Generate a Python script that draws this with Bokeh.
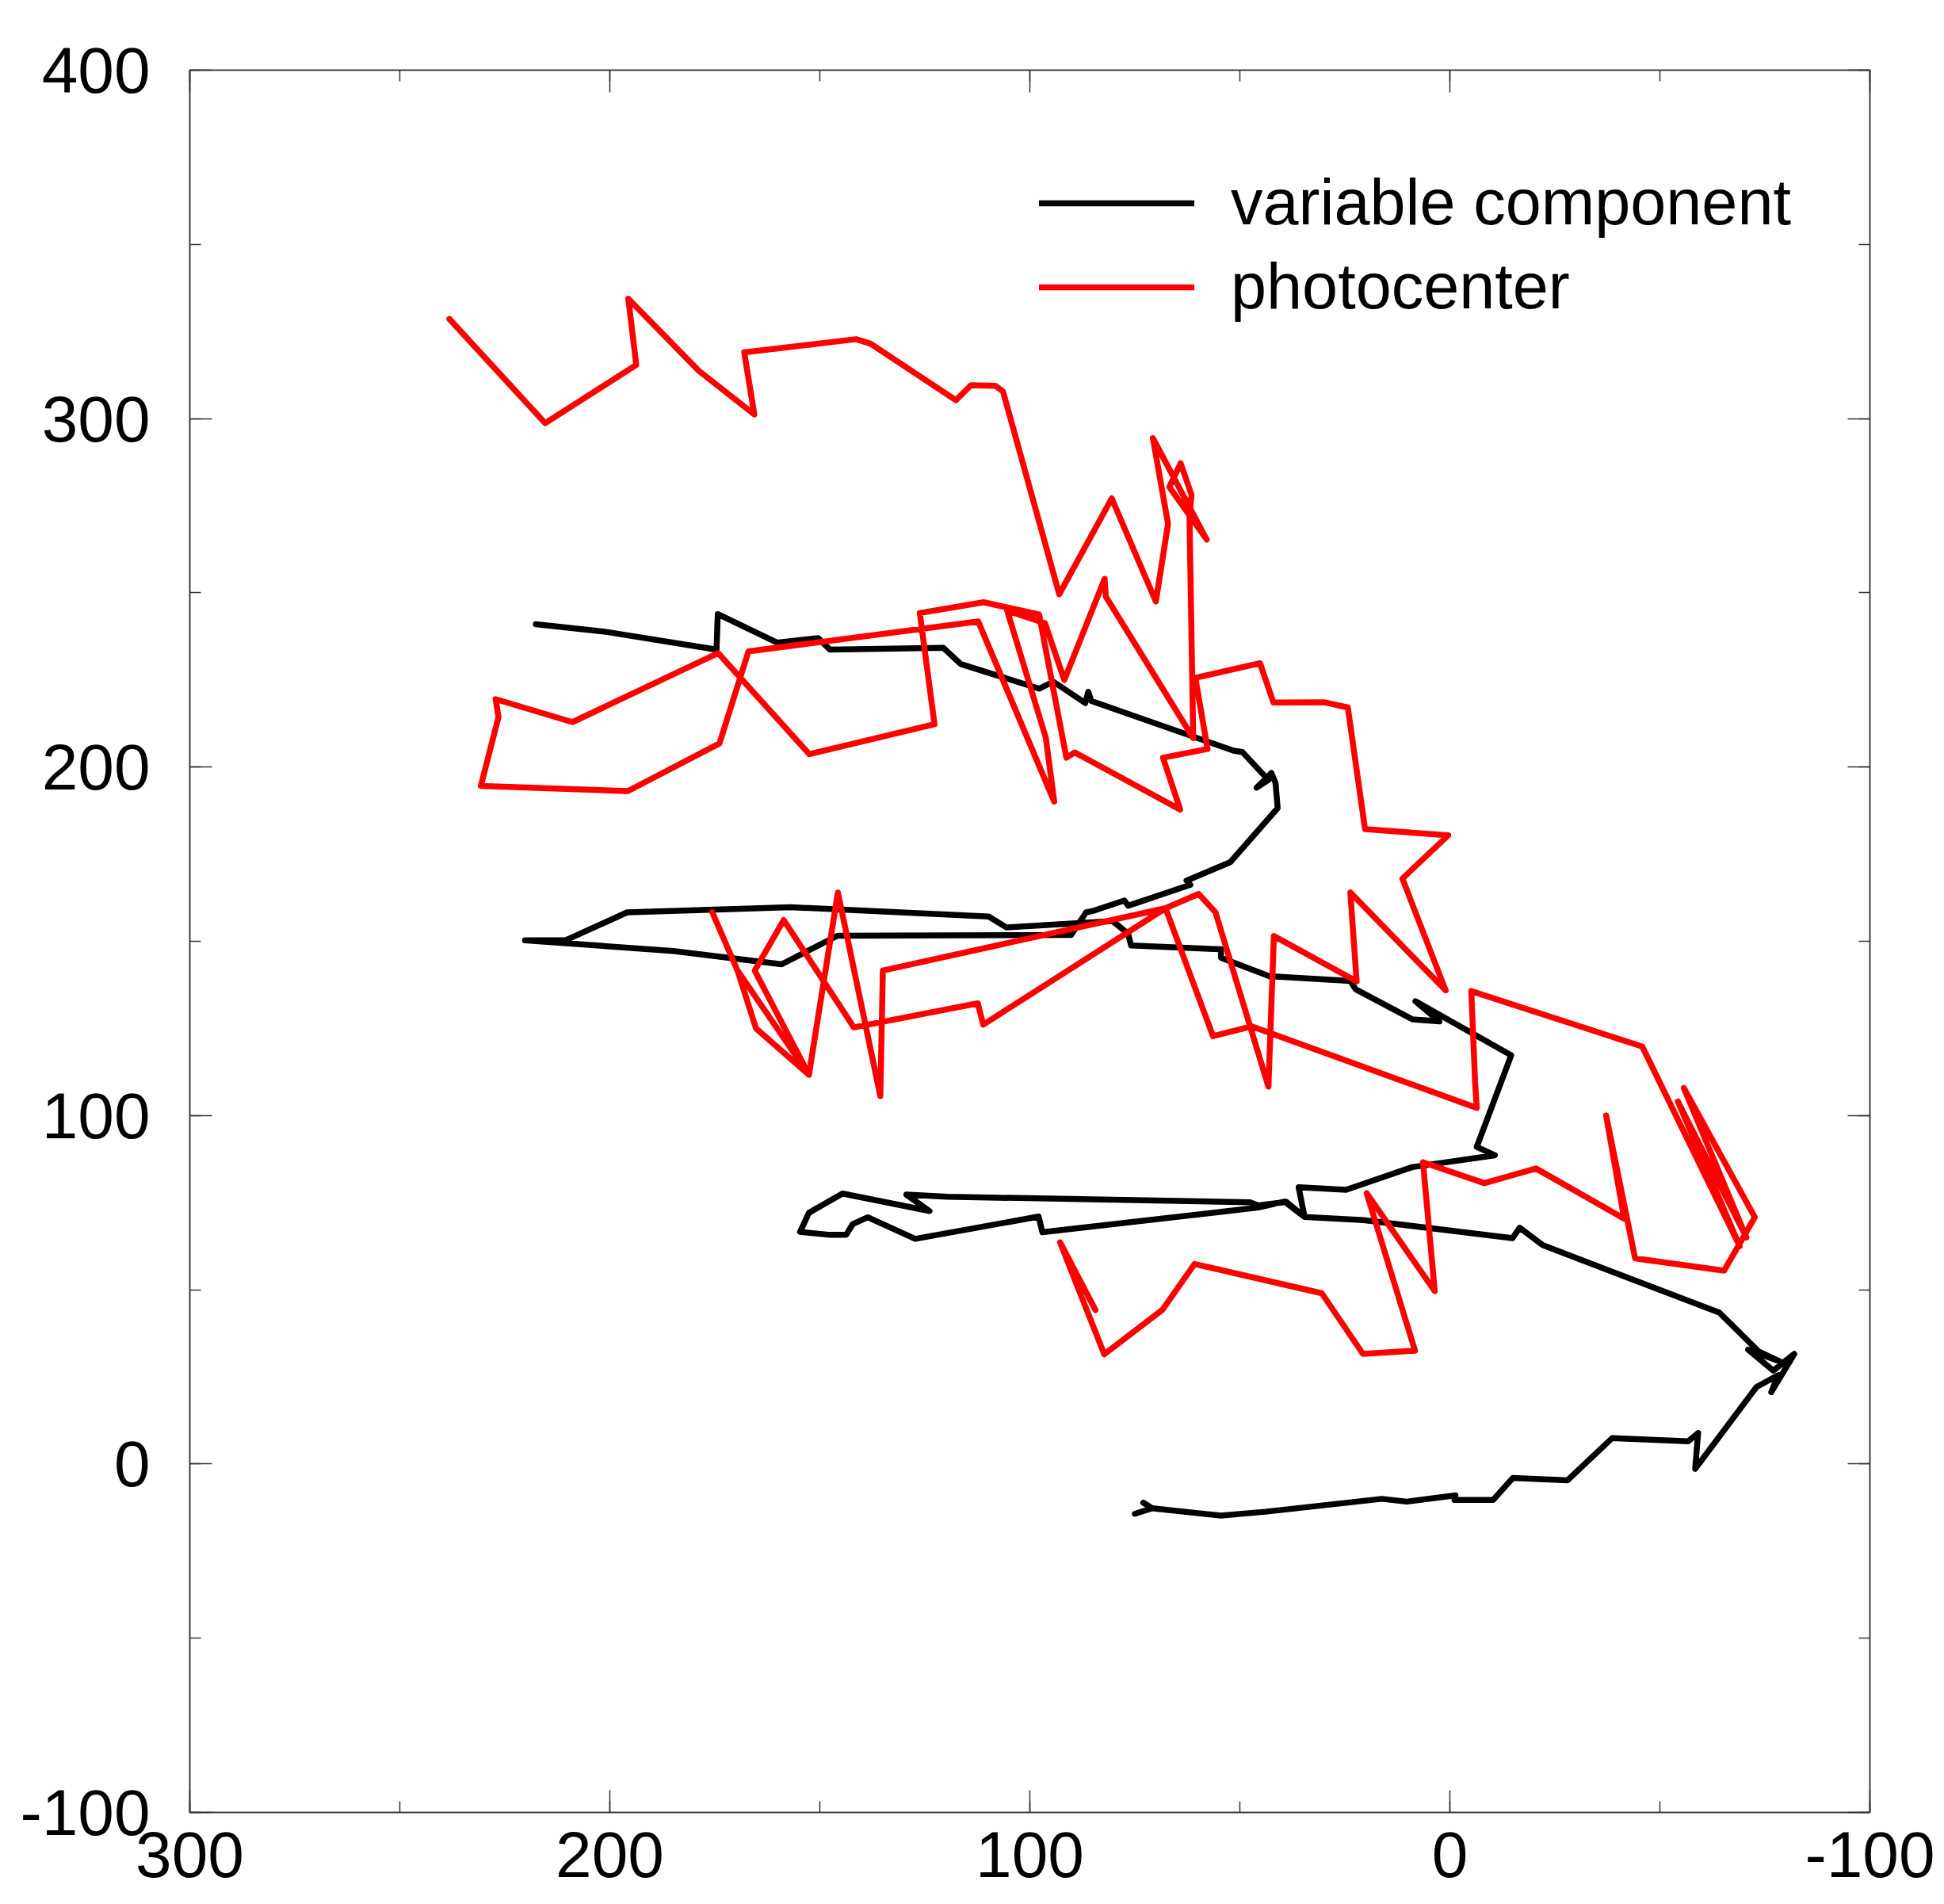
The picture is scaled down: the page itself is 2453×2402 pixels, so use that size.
from bokeh.plotting import figure
from bokeh.models import (Range1d, LinearAxis, SingleIntervalTicker, Legend, LegendItem,
                          PrintfTickFormatter, CustomLabelingPolicy)
from bokeh.embed import file_html
from bokeh.resources import INLINE

# ---- data ----
var_x = [217.6, 200.9, 174.6, 174.3, 160.1, 150.4, 147.6, 120.6, 116.5, 97.8, 94.4, 86.8, 86.1, 85.4,
         51.5, 49.4, 43.2, 46.0, 42.5, 41.5, 41.0, 52.3, 62.7, 61.8, 76.6, 77.5, 84.7, 86.6, 90.2,
         145.8, 159.1, 184.9, 220.2, 210.5, 195.9, 157.0, 109.8, 105.6, 80.3, 76.6, 75.9, 54.5, 54.5,
         43.0, 23.7, 22.4, 8.9, 2.5, 8.2, -14.6, -6.4, -10.7, 9.0, 24.7, 36.0, 34.6, 38.9, 45.6, 47.6,
         119.7, 129.4, 123.9, 144.6, 152.6, 154.7, 148.0, 143.7, 142.2, 138.6, 127.3, 97.9, 97.0,
         45.6, 39.4, 34.6, 20.5, -14.9, -16.6, -22.1, -64.2, -73.5, -78.8, -71.0, -77.0, -82.0,
         -76.5, -78.2, -73.0, -58.4, -59.1, -56.7, -38.6, -28.0, -15.0, -10.3, -1.1, -1.3, 10.3,
         16.2, 43.9, 54.5, 70.9, 73.0, 70.9, 75.0]
var_y = [241.0, 238.8, 233.7, 243.9, 235.7, 237.0, 233.7, 234.2, 229.6, 222.5, 224.5, 218.4, 221.6, 219.0,
         204.7, 204.3, 196.3, 194.1, 198.3, 195.4, 188.2, 172.7, 167.4, 166.2, 160.2, 161.7, 158.8, 158.3, 151.8,
         151.6, 143.4, 147.2, 150.3, 150.3, 158.3, 159.8, 157.1, 154.0, 155.8, 152.2, 148.8, 147.7, 145.3,
         140.0, 138.6, 136.2, 127.6, 127.0, 132.8, 117.3, 91.0, 88.6, 85.2, 78.7, 79.4, 70.9, 75.2, 74.2, 75.1,
         76.7, 77.3, 72.6, 77.6, 72.1, 66.6, 65.8, 65.8, 68.8, 70.8, 64.6, 71.0, 66.5,
         73.6, 75.3, 70.9, 70.0, 64.8, 67.8, 62.8, 43.4, 32.3, 29.3, 32.8, 26.8, 31.6,
         20.6, 25.5, 22.1, -1.4, 8.9, 6.5, 7.4, -4.7, -4.0, -10.3, -10.3, -9.0, -10.8,
         -10.0, -13.7, -14.8, -12.7, -11.1, -12.7, -14.3]

photo_x = [238.2, 215.4, 193.7, 195.6, 178.8, 165.6, 168.0, 141.4, 137.9, 117.6, 114.0, 108.2, 106.4,
           93.0, 80.5, 70.0, 67.1, 70.7, 57.9, 66.8, 64.1, 61.5, 62.0, 61.1, 81.9, 82.2, 91.8, 96.4,
           105.4, 96.2, 94.2, 112.3, 167.0, 173.9, 195.7, 230.7, 226.5, 227.2, 208.9, 174.2, 152.5,
           122.7, 126.2, 111.0, 97.8, 91.3, 89.3, 64.2, 68.3, 57.7, 60.6, 45.2, 42.0, 30.0, 24.3, 20.2,
           0.4, 11.3, 1.0, 23.7, 22.2, 41.9, 43.2, 55.8, 59.8, 67.7, 135.0, 135.6, 145.7, 152.6, 165.2,
           169.6, 175.6, 169.6, 152.6, 165.5, 158.6, 141.9, 112.4, 111.1, 99.8, 67.7, 56.4, 47.2, -6.4,
           -6.0, -5.1, -45.8, -69.0, -54.3, -70.6, -55.7, -72.6, -65.3, -44.1, -37.2, -41.5, -20.5,
           -8.2, 6.4, 3.6, 19.8, 8.3, 20.7, 30.5, 60.8, 68.4, 82.3, 92.8, 84.4]
photo_y = [328.6, 298.7, 315.4, 334.4, 313.7, 301.2, 319.0, 322.8, 321.5, 305.3, 309.6, 309.4, 307.8,
           249.6, 277.1, 247.5, 269.8, 294.4, 265.3, 280.4, 287.2, 278.1, 272.0, 208.3, 248.9, 254.0, 225.0, 241.3,
           244.9, 208.4, 190.1, 241.8, 233.2, 206.8, 193.1, 194.6, 214.4, 219.5, 212.9, 232.7, 203.7,
           212.3, 244.2, 247.3, 243.8, 202.7, 204.2, 187.8, 202.7, 205.2, 225.6, 229.8, 218.5, 218.6, 217.1, 182.2,
           180.4, 168.0, 135.9, 164.0, 138.5, 151.5, 108.3, 158.3, 163.6, 159.5, 141.6, 105.6, 164.0, 111.7, 125.0,
           141.6, 158.3, 141.6, 111.7, 141.6, 156.1, 125.3, 132.2, 126.1, 134.8, 159.5, 122.8, 125.6, 102.2,
           109.7, 135.7, 119.8, 62.5, 104.0, 65.0, 107.9, 70.8, 55.5, 59.0, 100.0, 70.4, 84.8,
           80.6, 86.6, 49.6, 77.7, 32.5, 31.6, 49.0, 57.4, 44.3, 31.5, 63.6, 44.2]

series_labels = ["variable component", "photocenter"]
series_colors = ["#000000", "#ff0000"]
x_limits = [300, -100]
y_limits = [-100, 400]
tick_step = 100

FONT = "Liberation Sans"
AX = "#333333"

p = figure(frame_width=2120, frame_height=2198,
           min_border_left=239, min_border_top=88, min_border_right=92, min_border_bottom=114,
           x_range=Range1d(*x_limits), y_range=Range1d(*y_limits),
           output_backend="svg", toolbar_location=None,
           x_axis_location=None, y_axis_location=None)
p.background_fill_color = "white"
p.border_fill_color = "white"
p.outline_line_color = AX
p.outline_line_width = 1.5
p.xgrid.visible = False
p.ygrid.visible = False

r1 = p.line(var_x, var_y, line_color=series_colors[0], line_width=7.5,
            line_join="round", line_cap="round")
r2 = p.line(photo_x, photo_y, line_color=series_colors[1], line_width=7.5,
            line_join="round", line_cap="round")


def make_axis(show_labels, standoff):
    ax = LinearAxis(ticker=SingleIntervalTicker(interval=tick_step, num_minor_ticks=2))
    ax.formatter = PrintfTickFormatter(format="%d")
    ax.axis_line_color = AX
    ax.axis_line_width = 1.5
    ax.major_tick_line_color = AX
    ax.minor_tick_line_color = AX
    ax.major_tick_line_width = 1.5
    ax.minor_tick_line_width = 1.5
    ax.major_tick_in = 28
    ax.major_tick_out = 0
    ax.minor_tick_in = 14
    ax.minor_tick_out = 0
    ax.major_label_standoff = standoff
    ax.major_label_text_font = FONT
    ax.major_label_text_color = "black"
    ax.major_label_text_font_size = "82px"
    if not show_labels:
        ax.major_label_policy = CustomLabelingPolicy(
            code="for (const i of indices) { indices.unset(i) } return indices")
    return ax


p.add_layout(make_axis(True, 24), "below")
p.add_layout(make_axis(True, 50), "left")
p.add_layout(make_axis(False, 0), "above")
p.add_layout(make_axis(False, 0), "right")

legend = Legend(items=[LegendItem(label=series_labels[0], renderers=[r1]),
                       LegendItem(label=series_labels[1], renderers=[r2])],
                location=(1072, 1878))
legend.padding = 0
legend.margin = 0
legend.spacing = 13
legend.glyph_width = 196
legend.glyph_height = 80
legend.label_height = 80
legend.label_standoff = 46
legend.label_text_font = FONT
legend.label_text_font_size = "81px"
legend.label_text_color = "black"
legend.border_line_alpha = 0
legend.background_fill_alpha = 0
p.add_layout(legend, "center")

open("out.html", "w").write(file_html(p, INLINE))
